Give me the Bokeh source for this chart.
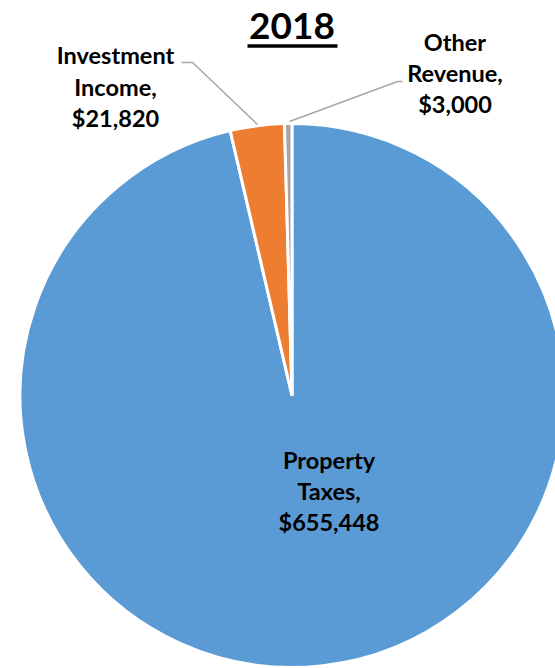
import math
from bokeh.plotting import figure
from bokeh.models import Range1d, ColumnDataSource
from bokeh.core.properties import value
from bokeh.embed import file_html
from bokeh.resources import INLINE

# ---- data ----
title_text = "2018"
categories = ["Property Taxes", "Investment Income", "Other Revenue"]
amounts = [655448, 21820, 3000]
colors = ["#5B9BD5", "#ED7D31", "#A5A5A5"]

# ---- layout (screen pixel coords) ----
W, H = 555, 668
def Y(sy):
    return H - sy

cx, cy, R = 291.5, 395.0, 272.0

p = figure(width=W, height=H, output_backend="svg", toolbar_location=None,
           x_range=Range1d(0, W), y_range=Range1d(0, H), min_border=0,
           background_fill_color="white", border_fill_color="white")
p.axis.visible = False
p.grid.visible = False
p.outline_line_color = None

total = float(sum(amounts))
starts, ends = [], []
a = math.pi / 2
for v in amounts:
    starts.append(a)
    a = a - 2 * math.pi * v / total
    ends.append(a)

src = ColumnDataSource(dict(start=starts, end=ends, color=colors, name=categories, amt=amounts))
p.wedge(x=cx, y=Y(cy), radius=R, start_angle="start", end_angle="end", direction="clock",
        fill_color="color", line_color="white", line_width=3, source=src)

# leader lines
p.line(x=[181, 192, 257], y=[Y(62), Y(62), Y(124)], line_color="#A6A6A6", line_width=1.5)
p.line(x=[289, 397, 402], y=[Y(121), Y(81), Y(81)], line_color="#A6A6A6", line_width=1.5)

font = value("Lato")
LS = 23.5
TS = 37.0

def label_lines(name, amt):
    words = name.split(" ")
    return [words[0], words[1] + ",", "${:,}".format(amt)]

label_pos = [(328.5, [468, 499, 530]), (115, [63, 94.5, 126]), (454.5, [50, 81, 112])]
for (name, amt), (lx, ys) in zip(zip(categories, amounts), label_pos):
    lines = label_lines(name, amt)
    p.text(x=[lx] * 3, y=[Y(v - 0.35 * LS) for v in ys], text=lines, text_font=font,
           text_font_style="bold", text_font_size=f"{LS}px", text_color="black",
           text_align="center", text_baseline="alphabetic")

# title with underline
p.text(x=[291.5], y=[Y(38.5 - 0.35 * TS)], text=[title_text], text_font=font, text_font_style="bold",
       text_font_size=f"{TS}px", text_color="black", text_align="center", text_baseline="alphabetic")
p.line(x=[247, 337], y=[Y(45.5), Y(45.5)], line_color="black", line_width=3.5)

open("out.html", "w").write(file_html(p, INLINE))
